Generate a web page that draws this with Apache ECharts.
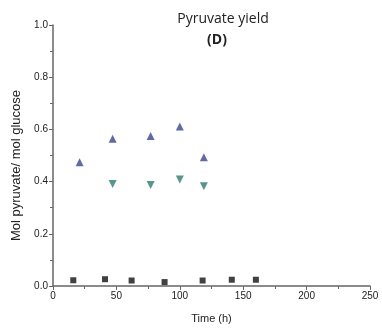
<!DOCTYPE html>
<html>
<head>
<meta charset="utf-8">
<script src="https://cdn.jsdelivr.net/npm/echarts@6/dist/echarts.min.js"></script>
<style>
  html, body { margin: 0; padding: 0; background: #fff; }
  #chart { width: 382px; height: 329px; }
</style>
</head>
<body>
<div id="chart"></div>
<script>
// Pyruvate yield over time, three conditions
const upTime = [21, 47, 77, 100, 119];
const upYield = [0.474, 0.564, 0.575, 0.611, 0.493];

const downTime = [47, 77, 100, 119];
const downYield = [0.391, 0.387, 0.408, 0.382];

const squareTime = [16, 41, 62, 88, 118, 141, 160];
const squareYield = [0.022, 0.026, 0.021, 0.015, 0.021, 0.024, 0.024];

const xTicks = [0, 50, 100, 150, 200, 250];
const yTicks = [0.0, 0.2, 0.4, 0.6, 0.8, 1.0];

const pair = (xs, ys) => xs.map((x, i) => [x, ys[i]]);

const axisColor = '#666';
const sans = '"Liberation Sans", Arial, sans-serif';
const chart = echarts.init(document.getElementById('chart'));
chart.setOption({
  animation: false,
  title: [
    { text: 'Pyruvate yield', left: 218, top: 7, textAlign: 'center',
      textStyle: { fontFamily: 'Open Sans', fontSize: 14, fontWeight: 'normal', color: '#222' } },
    { text: '(D)', left: 212, top: 28, textAlign: 'center',
      textStyle: { fontFamily: 'Open Sans', fontSize: 14, fontWeight: 'bold', color: '#222' } }
  ],
  grid: { left: 53, right: 12, top: 25, bottom: 42 },
  xAxis: {
    type: 'value', min: xTicks[0], max: xTicks[xTicks.length - 1], interval: 50,
    name: 'Time (h)', nameLocation: 'middle', nameGap: 27,
    nameTextStyle: { fontFamily: sans, fontSize: 11, color: '#222' },
    axisLine: { show: true, lineStyle: { color: axisColor, width: 1.5 } },
    axisTick: { show: true, inside: false, length: 4, lineStyle: { color: axisColor } },
    minorTick: { show: true, splitNumber: 2, length: 3, lineStyle: { color: axisColor } },
    splitLine: { show: false },
    axisLabel: { fontFamily: sans, fontSize: 10, color: '#222', margin: 5 }
  },
  yAxis: {
    type: 'value', min: yTicks[0], max: yTicks[yTicks.length - 1], interval: 0.2,
    name: 'Mol pyruvate/ mol glucose', nameLocation: 'middle', nameGap: 27,
    nameTextStyle: { fontFamily: sans, fontSize: 13, color: '#222',
      padding: [0, 20, 0, 0] },
    axisLine: { show: true, lineStyle: { color: axisColor, width: 1.5 } },
    axisTick: { show: true, inside: false, length: 4, lineStyle: { color: axisColor } },
    minorTick: { show: true, splitNumber: 2, length: 3, lineStyle: { color: axisColor } },
    splitLine: { show: false },
    axisLabel: { fontFamily: sans, fontSize: 10, color: '#222', margin: 5,
      formatter: v => v.toFixed(1) }
  },
  series: [
    { type: 'scatter', data: pair(upTime, upYield), symbol: 'triangle', symbolSize: 8,
      itemStyle: { color: '#3a468c' } },
    { type: 'scatter', data: pair(downTime, downYield), symbol: 'triangle', symbolSize: 8,
      symbolRotate: 180, itemStyle: { color: '#2d7a70' } },
    { type: 'scatter', data: pair(squareTime, squareYield), symbol: 'rect', symbolSize: 6,
      itemStyle: { color: '#111' } }
  ]
});
</script>
</body>
</html>
